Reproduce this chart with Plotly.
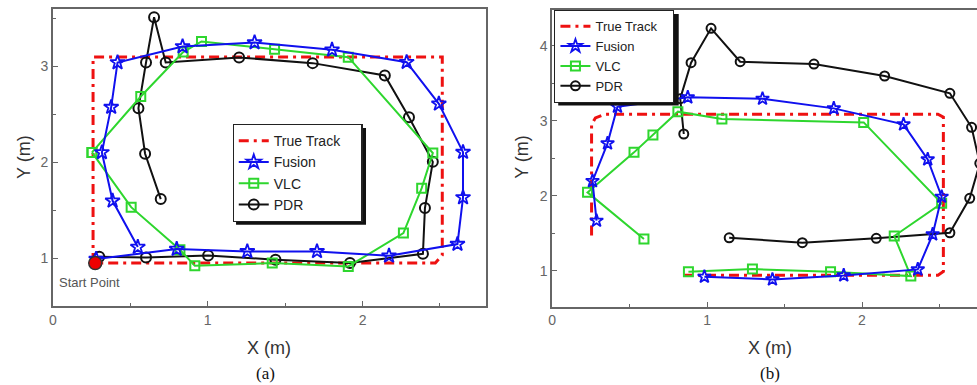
import plotly.graph_objects as go

W, H = 977, 385

# ---------------- Panel (a) data ----------------
true_a_x = [0.26, 0.26, 2.515, 2.515, 2.47, 0.26]
true_a_y = [0.95, 3.10, 3.10, 1.03, 0.95, 0.95]
fusion_a_x = [0.28, 0.80, 1.256, 1.706, 2.171, 2.613, 2.649, 2.649, 2.493, 2.285,
              1.803, 1.303, 0.838, 0.418, 0.377, 0.317, 0.386, 0.549]
fusion_a_y = [0.99, 1.094, 1.07, 1.07, 1.024, 1.146, 1.633, 2.106, 2.61, 3.045,
              3.174, 3.25, 3.209, 3.042, 2.576, 2.103, 1.598, 1.115]
vlc_a_x = [0.253, 0.506, 0.821, 0.917, 1.417, 1.908, 2.264, 2.382, 2.454, 1.908,
           1.432, 0.96, 0.842, 0.568, 0.253]
vlc_a_y = [2.103, 1.532, 1.087, 0.92, 0.948, 0.913, 1.261, 1.73, 2.096, 3.097,
           3.181, 3.261, 3.15, 2.687, 2.103]
pdr_a_x = [0.30, 0.602, 1.003, 1.438, 1.919, 2.39, 2.403, 2.454, 2.30, 2.144,
           1.678, 1.203, 0.729, 0.654, 0.602, 0.553, 0.596, 0.697]
pdr_a_y = [1.015, 1.007, 1.028, 0.983, 0.948, 1.045, 1.522, 2.005, 2.471, 2.906,
           3.035, 3.094, 3.042, 3.515, 3.042, 2.565, 2.089, 1.616]
start_x = [0.274]
start_y = [0.948]

# ---------------- Panel (b) data ----------------
true_b_x = [0.255, 0.255, 0.28, 0.34, 2.49, 2.525, 2.525, 2.49, 0.83]
true_b_y = [1.47, 2.95, 3.04, 3.09, 3.09, 3.05, 0.99, 0.94, 0.94]
fusion_b_x = [0.287, 0.261, 0.358, 0.422, 0.876, 1.358, 1.818, 2.268, 2.424, 2.514,
              2.456, 2.36, 1.882, 1.422, 0.983]
fusion_b_y = [1.668, 2.197, 2.70, 3.19, 3.314, 3.296, 3.167, 2.954, 2.486, 1.988,
              1.485, 1.018, 0.938, 0.884, 0.92]
vlc_b_x = [0.593, 0.229, 0.529, 0.651, 0.812, 1.096, 2.011, 2.514, 2.208, 2.315,
           1.797, 1.293, 0.88]
vlc_b_y = [1.423, 2.046, 2.58, 2.81, 3.123, 3.025, 2.98, 1.90, 1.463, 0.929,
           0.987, 1.022, 0.987]
pdr_b_x = [0.85, 0.827, 0.897, 1.026, 1.214, 1.69, 2.146, 2.567, 2.707, 2.76,
           2.695, 2.567, 2.092, 1.615, 1.143]
pdr_b_y = [2.825, 3.296, 3.777, 4.235, 3.79, 3.759, 3.599, 3.368, 2.914, 2.433,
           1.966, 1.507, 1.432, 1.374, 1.44]

names = ["True Track", "Fusion", "VLC", "PDR"]
RED, BLUE, GREEN, BLACK = "#ee1111", "#1010ee", "#2ed62e", "#111111"
NB = "\u00a0"


def px(x):
    return x / W


def py(y):
    return 1 - y / H


fig = go.Figure()


def add_set(tx, ty, fx, fy, vx, vy, pxs, pys, xa, ya, leg, fs, pad):
    fig.add_trace(go.Scatter(x=tx, y=ty, mode="lines", name=names[0] + NB * pad,
                             line=dict(color=RED, width=3, dash="10px,5px,3px,5px"),
                             xaxis=xa, yaxis=ya, legend=leg, legendrank=1))
    fig.add_trace(go.Scatter(x=pxs, y=pys, mode="lines+markers", name=names[3],
                             line=dict(color=BLACK, width=2),
                             marker=dict(symbol="circle-open", size=fs[2], color=BLACK,
                                         line=dict(width=2)),
                             xaxis=xa, yaxis=ya, legend=leg, legendrank=4))
    fig.add_trace(go.Scatter(x=vx, y=vy, mode="lines+markers", name=names[2],
                             line=dict(color=GREEN, width=2),
                             marker=dict(symbol="square-open", size=fs[1], color=GREEN,
                                         line=dict(width=2)),
                             xaxis=xa, yaxis=ya, legend=leg, legendrank=3))
    fig.add_trace(go.Scatter(x=fx, y=fy, mode="lines+markers", name=names[1],
                             line=dict(color=BLUE, width=2),
                             marker=dict(symbol="star-open", size=fs[0], color=BLUE,
                                         line=dict(width=1.8)),
                             xaxis=xa, yaxis=ya, legend=leg, legendrank=2))


add_set(true_a_x, true_a_y, fusion_a_x, fusion_a_y, vlc_a_x, vlc_a_y, pdr_a_x, pdr_a_y,
        "x", "y", "legend", (11, 9, 10), 4)
add_set(true_b_x, true_b_y, fusion_b_x, fusion_b_y, vlc_b_x, vlc_b_y, pdr_b_x, pdr_b_y,
        "x2", "y2", "legend2", (10, 9, 9), 3)

fig.add_trace(go.Scatter(x=start_x, y=start_y, mode="markers", showlegend=False,
                         marker=dict(color="#ee0000", size=13, line=dict(color="#333", width=1.5)),
                         xaxis="x", yaxis="y"))

axis_common = dict(showline=True, linecolor="#666", linewidth=1.5, ticks="inside",
                   ticklen=5, tickcolor="#666", tickwidth=1.2,
                   tickfont=dict(size=14, color="#666", family="Liberation Sans, Arial"),
                   showgrid=False, zeroline=False, tick0=0, dtick=1,
                   minor=dict(ticks="inside", ticklen=3, dtick=0.5, tickcolor="#666",
                              showgrid=False))

fig.update_layout(
    width=W, height=H, margin=dict(l=0, r=0, t=0, b=0),
    paper_bgcolor="white", plot_bgcolor="white",
    xaxis=dict(domain=[px(49), px(484.4)], range=[0, 2.8], anchor="y", mirror=True,
               **axis_common),
    yaxis=dict(domain=[py(306), py(9)], range=[0.5, 3.6], anchor="x", mirror=True,
               **axis_common),
    xaxis2=dict(domain=[px(550.3), 1.0], range=[0, 2.742], anchor="y2", mirror=True,
                **axis_common),
    yaxis2=dict(domain=[py(306.7), py(10)], range=[0.52, 4.48], anchor="x2", mirror=False,
                **axis_common),
    legend=dict(x=px(229.5), y=py(124), xanchor="left", yanchor="top",
                bgcolor="white", bordercolor="#222", borderwidth=1.2,
                font=dict(size=14, color="#222", family="Liberation Sans, Arial"),
                traceorder="normal", tracegroupgap=0),
    legend2=dict(x=px(552.5), y=py(10), xanchor="left", yanchor="top",
                 bgcolor="white", bordercolor="#222", borderwidth=1.2,
                 font=dict(size=13, color="#222", family="Liberation Sans, Arial"),
                 traceorder="normal", tracegroupgap=0),
)

ann_font = dict(size=18, color="#333", family="Liberation Sans, Arial")
cap_font = dict(size=17, color="#111", family="Liberation Serif, Times New Roman")
annotations = [
    dict(x=px(266), y=py(348), text="X (m)", font=ann_font),
    dict(x=px(769), y=py(348), text="X (m)", font=ann_font),
    dict(x=px(20), y=py(157), text="Y (m)", font=ann_font, textangle=-90),
    dict(x=px(520), y=py(157), text="Y (m)", font=ann_font, textangle=-90),
    dict(x=px(263), y=py(373), text="(a)", font=cap_font),
    dict(x=px(769), y=py(373), text="(b)", font=cap_font),
    dict(x=px(86), y=py(282), text="Start Point",
         font=dict(size=13, color="#555", family="Liberation Sans, Arial")),
]
for a in annotations:
    a.update(xref="paper", yref="paper", showarrow=False, xanchor="center", yanchor="middle")
fig.update_layout(annotations=annotations)

# legend drop shadows (legend box sizes: (a) ~130.7 x 97.2 px, (b) ~121 x 92 px)
fig.update_layout(shapes=[
    dict(type="rect", xref="paper", yref="paper", x0=px(233), x1=px(363.5), y0=py(224.7),
         y1=py(128), fillcolor="#111", line=dict(width=0), layer="above"),
    dict(type="rect", xref="paper", yref="paper", x0=px(556.5), x1=px(677.5), y0=py(105.5),
         y1=py(14), fillcolor="#111", line=dict(width=0), layer="above"),
])

fig.write_html("out.html")
